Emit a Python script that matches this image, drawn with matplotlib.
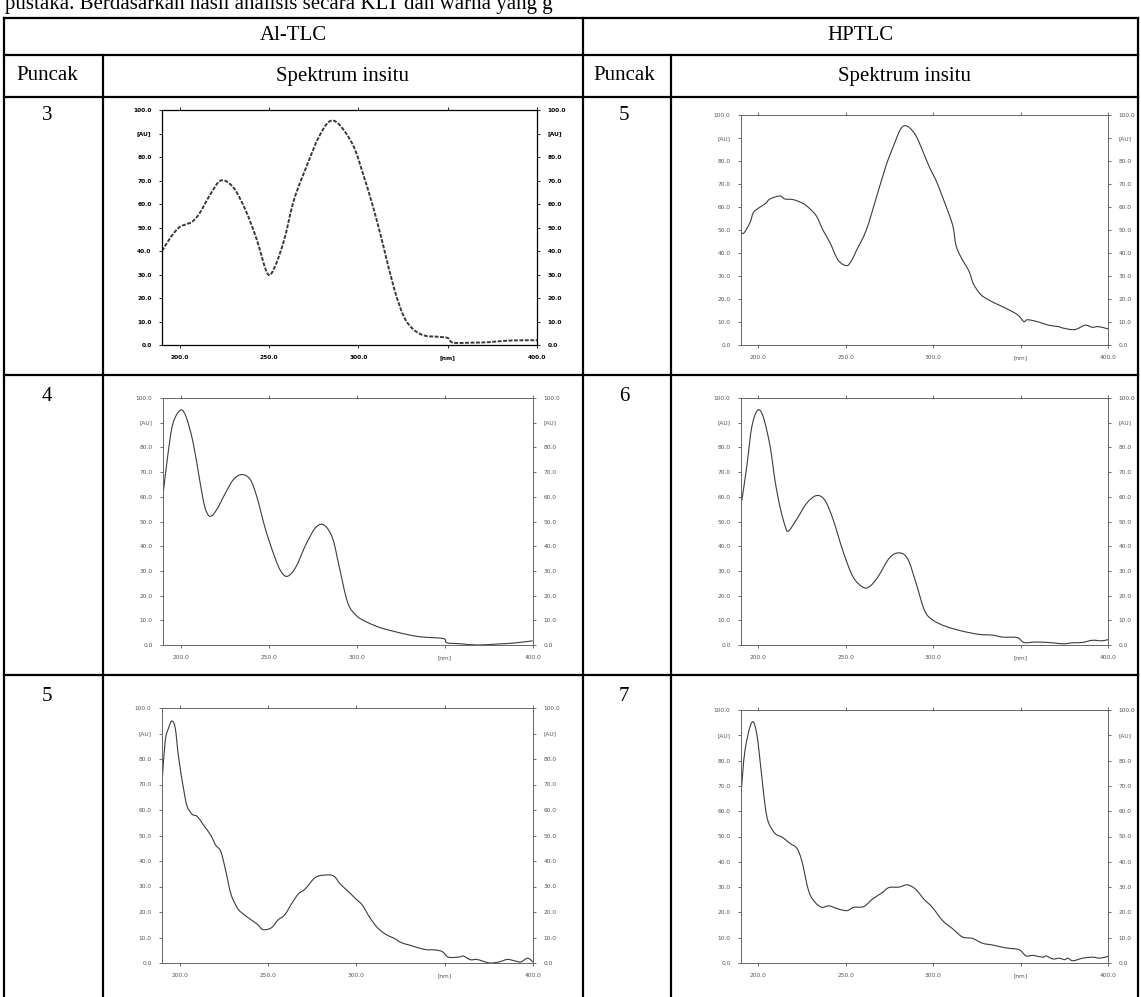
import matplotlib
matplotlib.use("Agg")
import matplotlib.pyplot as plt
from matplotlib.path import Path
from matplotlib.patches import PathPatch

W, H = 1141, 997

# --- table text ---
intro_text = "pustaka. Berdasarkan hasil analisis secara KLT dan warna yang g"
groups = ["Al-TLC", "HPTLC"]
col_heads = ["Puncak", "Spektrum insitu"]
peaks_al = ["3", "4", "5"]
peaks_hp = ["5", "6", "7"]

# --- spectra (wavelength nm, absorbance AU) ---
al3_nm = [190, 195, 199.5, 204, 207, 211, 217, 223, 230, 237, 243, 249, 253, 258.5, 264, 272,
          277.5, 283.5, 289, 297, 302.5, 308.5, 314, 320, 325.5, 331, 337, 344.5, 350, 353,
          363.5, 373, 382.5, 392, 400]
al3_au = [40, 46, 50, 51.5, 52.5, 56, 64, 70, 67, 57, 45, 30.5, 33, 45, 62, 78,
          88, 95, 94, 85, 73, 58, 42, 24, 12, 6.5, 4, 3.5, 3, 1,
          1, 1.2, 1.8, 2, 2]

al4_nm = [190.3, 192.7, 195.6, 200, 203.2, 207.1, 210.9, 213.7, 216.6, 220.4, 225.2, 230, 234.7,
          239.5, 243.3, 248.1, 252.9, 256.7, 260.5, 265.3, 271, 276.7, 281.5, 286.3, 290.1,
          294.8, 299.6, 305.3, 313, 320.6, 330.2, 337.8, 349.2, 351.1, 358.8, 368.3, 379.8,
          389.3, 399.8]
al4_au = [62.5, 76.7, 89.6, 95.1, 92.2, 81.9, 66.4, 56, 52.1, 54.7, 61.2, 67, 69,
          67, 59.9, 47, 36.6, 30.1, 27.8, 31.4, 40.5, 47.6, 48.5, 43.1, 31.4,
          17.2, 12, 9.4, 7.1, 5.6, 4, 3.2, 2.6, 0.9, 0.5, 0, 0.4,
          0.8, 1.7]

al5_nm = [190, 191.8, 193.7, 195.6, 197.5, 199.4, 202.3, 204.2, 207.1, 209.9, 213.7, 217.6,
          220.4, 223.3, 226.1, 229, 232.8, 236.6, 240.5, 244.3, 247.1, 251.9, 255.7, 259.5,
          263.4, 267.2, 271, 276.7, 282.4, 287.2, 291, 295.8, 299.6, 303.4, 307.3, 312,
          316.8, 321.6, 325.4, 330.2, 334.9, 339.7, 343.5, 347.3, 349.2, 352.1, 357.8,
          360.7, 364.5, 368.3, 372.1, 375.9, 380.7, 385.5, 389.3, 393.1, 396.9, 400]
al5_au = [70.4, 87, 92.1, 94.9, 92.1, 80.6, 67.9, 61.5, 58.3, 57.5, 53.9, 50.1,
          46.2, 43.7, 36.1, 27.1, 21.4, 18.9, 16.9, 15, 13.1, 13.8, 16.9, 18.9,
          23.3, 27.1, 29, 33.5, 34.5, 34.1, 30.9, 27.8, 25.2, 22.7, 18.2, 13.8,
          11.2, 9.6, 8, 7, 6, 5.2, 5.2, 4.8, 4.2, 2.3, 2.3,
          2.7, 1.3, 1.4, 0.6, 0, 0.4, 1.4, 0.9, 0.4, 1.9, 0.4]

hp5_nm = [190.5, 192, 195.3, 197, 200, 204, 206.6, 212.3, 215, 219.9, 225.6, 229, 233.2, 237,
          240.8, 245.5, 250.3, 253, 256, 261.7, 267.4, 273, 277, 281.6, 285.4, 290.1, 293.9,
          298, 301.5, 305, 311, 313, 316, 320.5, 323, 327.1, 331.9, 337, 343.3, 348.5,
          351.8, 354, 360.3, 366, 371.5, 374.6, 381, 386.9, 391, 394.5, 400]
hp5_au = [48.5, 49, 53.5, 57.5, 59.5, 61.5, 63.5, 64.8, 63.5, 63.2, 61.5, 59.5, 56, 49.8,
          44.7, 37, 34.5, 36.4, 41, 50, 64, 78, 86, 94.2, 95, 91, 84.5,
          77, 71.7, 65, 52.4, 43.4, 38, 32, 26.6, 22, 19.5, 17.6, 15.3, 13,
          10.2, 11, 10, 8.6, 8, 7.3, 6.7, 8.6, 7.7, 8, 7]

hp6_nm = [190.5, 193.4, 196.2, 199.6, 202.8, 206.6, 209.5, 212.3, 215.2, 217.1, 221.8, 227.5,
          233.2, 238, 242.7, 248.4, 254.1, 259.8, 263.6, 268.4, 275, 280.7, 285.5, 290.2,
          295, 299.7, 307.3, 316.8, 326.3, 333.9, 339.6, 348.1, 351.9, 358.6, 366.2,
          371.9, 375.7, 379.5, 385.2, 390.9, 396.6, 400]
hp6_au = [58.6, 72.8, 88.4, 95.1, 92.2, 80.6, 66.4, 56, 48.3, 46.1, 50.8, 57.3,
          60.5, 58.6, 50.8, 37.9, 27.6, 23.4, 23.7, 27.6, 35.3, 37.3, 34.7, 25,
          14, 10.1, 7.5, 5.6, 4.3, 4, 3.2, 3, 1, 1.2, 1,
          0.6, 0.5, 0.9, 1, 1.9, 1.7, 2.2]

hp7_nm = [190, 192.3, 196.2, 199, 201.9, 203.8, 205.7, 209.6, 213.4, 218.2, 222, 224.9, 228.7,
          232.5, 236.4, 240.2, 245.9, 250.7, 254.5, 260.3, 265.1, 270.8, 274.6, 280.4,
          285.2, 290, 294.7, 299.5, 305.3, 311, 316.7, 322.5, 328.2, 334, 339.7, 343.5,
          349.3, 353.1, 356.9, 362.7, 364.6, 368.4, 372.2, 375.1, 377, 379.9, 385.6,
          391.4, 395.2, 400]
hp7_au = [66.6, 84.1, 95.1, 90.6, 73.7, 62.1, 55.6, 51.1, 49.8, 47.2, 45.3, 40.1, 28.5,
          23.9, 22, 22.6, 21.3, 20.7, 22, 22.3, 25.2, 27.8, 29.8, 30,
          30.9, 29.1, 25.2, 22, 16.8, 13.6, 10.3, 9.7, 7.8, 7.1, 6.2, 5.8,
          5.2, 2.8, 3, 2.3, 2.8, 1.6, 1.9, 1.3, 1.9, 0.9, 1.9,
          2.3, 1.9, 2.6]

x_ticks = [200, 250, 300, 350, 400]
x_labels = ["200.0", "250.0", "300.0", "[nm]", "400.0"]
y_ticks = [0, 10, 20, 30, 40, 50, 60, 70, 80, 90, 100]
y_labels = ["0.0", "10.0", "20.0", "30.0", "40.0", "50.0", "60.0", "70.0", "80.0", "[AU]", "100.0"]

fig = plt.figure(figsize=(W / 100, H / 100), dpi=100)
bg = fig.add_axes([0, 0, 1, 1])
bg.set_xlim(0, W)
bg.set_ylim(H, 0)
bg.axis("off")

serif = "Liberation Serif"
lw = 1.6

# table lines
xl, xa, xm, xb, xr = 4, 103, 583, 671, 1138
yt, yh1, yh2, yr1, yr2 = 18, 55, 97, 375, 675
for y in [yt, yh1, yh2, yr1, yr2]:
    bg.plot([xl, xr], [y, y], color="black", lw=lw)
for x in [xl, xm, xr]:
    bg.plot([x, x], [yt, H], color="black", lw=lw)
for x in [xa, xb]:
    bg.plot([x, x], [yh1, H], color="black", lw=lw)

bg.text(5, 9, intro_text, fontsize=15, family=serif, ha="left", va="baseline")
bg.text((xl + xm) / 2, 36, groups[0], fontsize=15, family=serif, ha="center", va="center")
bg.text((xm + xr) / 2, 36, groups[1], fontsize=15, family=serif, ha="center", va="center")
left_c, right_c = 47, 624
bg.text(left_c, 76, col_heads[0], fontsize=15, family=serif, ha="center", va="center")
bg.text(right_c, 76, col_heads[0], fontsize=15, family=serif, ha="center", va="center")
for a, b in [(xa, xm), (xb, xr)]:
    bg.text((a + b) / 2, 76, col_heads[1], fontsize=15, family=serif, ha="center", va="center")
for i, y in enumerate([116, 396, 696]):
    bg.text(left_c, y, peaks_al[i], fontsize=15, family=serif, ha="center", va="center")
    bg.text(right_c, y, peaks_hp[i], fontsize=15, family=serif, ha="center", va="center")


def smooth_path(nm, au):
    # Catmull-Rom style bezier through the read points
    pts = list(zip(nm, au))
    verts = [pts[0]]
    codes = [Path.MOVETO]
    n = len(pts)
    for i in range(n - 1):
        p0 = pts[max(i - 1, 0)]
        p1 = pts[i]
        p2 = pts[i + 1]
        p3 = pts[min(i + 2, n - 1)]
        c1 = (p1[0] + (p2[0] - p0[0]) / 6, p1[1] + (p2[1] - p0[1]) / 6)
        c2 = (p2[0] - (p3[0] - p1[0]) / 6, p2[1] - (p3[1] - p1[1]) / 6)
        verts += [c1, c2, p2]
        codes += [Path.CURVE4] * 3
    return Path(verts, codes)


def panel(box, nm, au, rough=False):
    l, t, r, b = box
    ax = fig.add_axes([l / W, 1 - b / H, (r - l) / W, (b - t) / H])
    if rough:
        patch = PathPatch(smooth_path(nm, au), fill=False, edgecolor="#3a3a3a", lw=1.4,
                          ls=(0, (2, 0.8)))
        col, fw, sc = "black", "bold", "black"
    else:
        patch = PathPatch(smooth_path(nm, au), fill=False, edgecolor="#3c3c3c", lw=0.8)
        col, fw, sc = "#555555", "normal", "#666666"
    ax.add_patch(patch)
    ax.set_xlim(190, 400)
    ax.set_ylim(0, 100)
    ax.set_xticks(x_ticks)
    ax.set_xticklabels(x_labels, fontweight=fw)
    ax.set_yticks(y_ticks)
    ax.set_yticklabels(y_labels, fontweight=fw)
    ax.tick_params(direction="out", length=2.5, width=0.6, pad=5, labelsize=4.2,
                   colors=col, top=True, right=True, labelright=True)
    for s in ax.spines.values():
        s.set_color(sc)
        s.set_linewidth(0.9 if rough else 0.7)
    return ax


panel((162, 110, 537, 345), al3_nm, al3_au, rough=True)
panel((741, 115, 1108, 345), hp5_nm, hp5_au)
panel((163, 398, 533, 645), al4_nm, al4_au)
panel((741, 398, 1108, 645), hp6_nm, hp6_au)
panel((162, 708, 533, 963), al5_nm, al5_au)
panel((741, 710, 1108, 963), hp7_nm, hp7_au)

fig.savefig("out.png", dpi=100)
